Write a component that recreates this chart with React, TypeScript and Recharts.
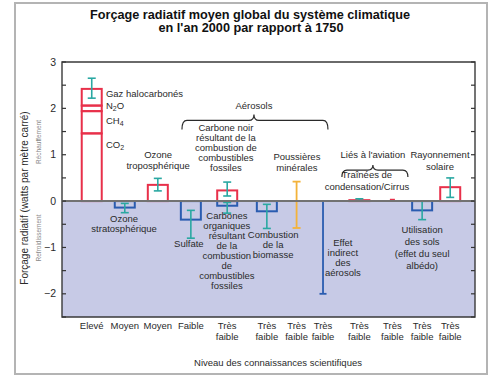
import React from 'react'
import {
  ComposedChart,
  Bar,
  ErrorBar,
  Scatter,
  XAxis,
  YAxis,
  ReferenceArea,
  ReferenceLine,
} from 'recharts'

// positions des colonnes sur l'axe horizontal et niveau de connaissance
const positions = [0.9, 1.9, 2.9, 3.9, 5.0, 6.2, 7.1, 7.9, 9.0, 10.0, 10.9, 11.75]
const levels = [
  'Elevé', 'Moyen', 'Moyen', 'Faible', 'Très faible', 'Très faible',
  'Très faible', 'Très faible', 'Très faible', 'Très faible', 'Très faible', 'Très faible',
]

// gaz à effet de serre (colonne 1, empilés) : CO2, CH4, N2O, halocarbonés
const ghgParts = [1.46, 0.48, 0.12, 0.36]
const ghgErr: [number, number] = [0.2, 0.23]

// forçages positifs (rouge) et négatifs (bleu), avec barres d'incertitude [bas, haut]
const warm = [null, null, 0.35, null, 0.23, null, null, null, 0.02, null, null, 0.3]
const warmErr = [null, null, [0.13, 0.14], null, [0.12, 0.18], null, null, null, [0.01, 0.03], null, null, [0.22, 0.2]]
const cool = [null, -0.14, null, -0.4, -0.1, -0.22, null, null, null, null, -0.2, null]
const coolErr = [null, [0.11, 0.09], null, [0.4, 0.2], [0.16, 0.07], [0.37, 0.15], null, null, null, null, [0.2, 0.2], null]

// plages seules : poussières minérales, effet indirect des aérosols ; cirrus
const dustRange = [0.42, -0.58]
const indirectRange = [0, -2]
const cirrus = 0.05

const yTicks = [-2.5, -2, -1.5, -1, -0.5, 0, 0.5, 1, 1.5, 2, 2.5, 3]

const RED = '#e8304a'
const BLUE = '#2a5cb0'
const TEAL = '#2aa8a2'
const ORANGE = '#f3b33a'
const TXT = '#2a2a2a'
const FONT = '"Liberation Sans", Arial, sans-serif'

const mid = (r: number[]) => (r[0] + r[1]) / 2
const half = (r: number[]) => (r[0] - r[1]) / 2

const data = positions.map((x, i) => ({
  x,
  level: levels[i],
  co2: i === 0 ? ghgParts[0] : null,
  ch4: i === 0 ? ghgParts[1] : null,
  n2o: i === 0 ? ghgParts[2] : null,
  halo: i === 0 ? ghgParts[3] : null,
  haloErr: i === 0 ? ghgErr : null,
  warm: warm[i],
  warmErr: warmErr[i],
  cool: cool[i],
  coolErr: coolErr[i],
  dust: i === 6 ? mid(dustRange) : null,
  dustErr: i === 6 ? half(dustRange) : null,
  indirect: i === 7 ? mid(indirectRange) : null,
  indirectErr: i === 7 ? half(indirectRange) : null,
  cirrus: i === 9 ? cirrus : null,
}))

// annotations placées en coordonnées du graphique
const notes = [
  { x: 1.33, y: 2.25, lines: ['Gaz halocarbonés'], anchor: 'start', lh: 10 },
  { x: 1.33, y: 1.98, lines: ['N_2O'], anchor: 'start', lh: 10 },
  { x: 1.33, y: 1.66, lines: ['CH_4'], anchor: 'start', lh: 10 },
  { x: 1.33, y: 1.15, lines: ['CO_2'], anchor: 'start', lh: 10 },
  { x: 2.91, y: 0.93, lines: ['Ozone', 'troposphérique'], anchor: 'middle', lh: 11 },
  { x: 1.88, y: -0.45, lines: ['Ozone', 'stratosphérique'], anchor: 'middle', lh: 10.5 },
  { x: 5.81, y: 1.98, lines: ['Aérosols'], anchor: 'middle', lh: 10 },
  { x: 4.96, y: 1.51, lines: ['Carbone noir', 'résultant de la', 'combustion de', 'combustibles', 'fossiles'], anchor: 'middle', lh: 10 },
  { x: 7.11, y: 0.88, lines: ['Poussières', 'minérales'], anchor: 'middle', lh: 10.5 },
  { x: 9.41, y: 0.93, lines: ["Liés à l'aviation"], anchor: 'middle', lh: 10 },
  { x: 9.23, y: 0.5, lines: ['Traînées de', 'condensation/Cirrus'], anchor: 'middle', lh: 12 },
  { x: 11.44, y: 0.93, lines: ['Rayonnement', 'solaire'], anchor: 'middle', lh: 12 },
  { x: 3.84, y: -0.99, lines: ['Sulfate'], anchor: 'middle', lh: 10 },
  { x: 4.99, y: -0.39, lines: ['Carbones', 'organiques', 'résultant', 'de la', 'combustion', 'de', 'combustibles', 'fossiles'], anchor: 'middle', lh: 10 },
  { x: 6.39, y: -0.8, lines: ['Combustion', 'de la', 'biomasse'], anchor: 'middle', lh: 10 },
  { x: 8.5, y: -0.97, lines: ['Effet', 'indirect', 'des', 'aérosols'], anchor: 'middle', lh: 10 },
  { x: 10.9, y: -0.69, lines: ['Utilisation', 'des sols', '(effet du seul', 'albédo)'], anchor: 'middle', lh: 12 },
]

// accolades : pointe au centre, demi-largeurs en px
const braces = [
  { x: 5.81, y: 1.74, left: 72, right: 74, up: 6, down: 9 },
  { x: 9.41, y: 0.67, left: 31, right: 35, up: 5, down: 7 },
]

function richLine(s: string) {
  const parts = s.split(/_(\d)/)
  return parts.map((p, k) =>
    k % 2 === 1 ? (
      <tspan key={k} fontSize={7} dy={2}>{p}</tspan>
    ) : (
      <tspan key={k} dy={k > 0 ? -2 : 0}>{p}</tspan>
    ),
  )
}

function NoteShape(props: any) {
  const { cx, cy, payload } = props
  return (
    <g>
      {payload.lines.map((l: string, k: number) => (
        <text
          key={k}
          x={cx}
          y={cy + k * payload.lh}
          dy="0.35em"
          textAnchor={payload.anchor}
          fontSize={9.5}
          fontFamily={FONT}
          fill={TXT}
        >
          {richLine(l)}
        </text>
      ))}
    </g>
  )
}

function BraceShape(props: any) {
  const { cx, cy, payload } = props
  const { left, right, up, down } = payload
  const r = 5
  const x0 = cx - left
  const x1 = cx + right
  const d = `M${x0},${cy + down} Q${x0},${cy} ${x0 + r},${cy} L${cx - r},${cy} Q${cx},${cy} ${cx},${cy - up} Q${cx},${cy} ${cx + r},${cy} L${x1 - r},${cy} Q${x1},${cy} ${x1},${cy + down}`
  return <path d={d} fill="none" stroke={TXT} strokeWidth={1.2} />
}

// boîte de largeur fixe centrée sur la position de la colonne
const boxShape = (color: string, w: number, filled = false) => (p: any) => {
  if (p.height == null || p.width == null || !p.height) return <g />
  const top = Math.min(p.y, p.y + p.height)
  const h = Math.abs(p.height)
  const cx = p.x + p.width / 2
  return (
    <rect
      x={cx - w / 2}
      y={top}
      width={w}
      height={h}
      fill={filled ? color : 'none'}
      stroke={filled ? 'none' : color}
      strokeWidth={2}
    />
  )
}

function XTick(props: any) {
  const { x, y, index } = props
  const label = levels[index] ?? ''
  const words = label.split(' ')
  return (
    <g>
      {words.map((w: string, k: number) => (
        <text key={k} x={x} y={y + 11.5 + k * 11.5} textAnchor="middle" fontSize={9.5} fontFamily={FONT} fill={TXT}>
          {w}
        </text>
      ))}
    </g>
  )
}

function LeftTick(props: any) {
  const { x, y, payload } = props
  const v = payload.value
  const ax = x + 6
  const isInt = Number.isInteger(v) && v > -2.5
  return (
    <g>
      <line x1={ax} x2={ax + 4} y1={y} y2={y} stroke="#333" strokeWidth={1.2} />
      {isInt && (
        <text x={x} y={y} dy="0.35em" textAnchor="end" fontSize={10.5} fontFamily={FONT} fill={TXT}>
          {v < 0 ? `\u2212${-v}` : v}
        </text>
      )}
    </g>
  )
}

function RightTick(props: any) {
  const { x, y } = props
  return <line x1={x - 4} x2={x} y1={y} y2={y} stroke="#333" strokeWidth={1.2} />
}

export default function App() {
  return (
    <div style={{ position: 'absolute', left: 0, top: 0, width: 500, height: 387, background: '#fff' }}>
      <ComposedChart
        width={500}
        height={387}
        data={data}
        stackOffset="sign"
        margin={{ top: 62, right: 20, bottom: 40, left: 32 }}
      >
        <XAxis
          type="number"
          dataKey="x"
          domain={[0, 12.5]}
          allowDataOverflow
          ticks={positions}
          interval={0}
          tick={<XTick />}
          tickLine={false}
          axisLine={false}
          tickSize={0}
          tickMargin={0}
          height={30}
        />
        <YAxis
          yAxisId="left"
          type="number"
          domain={[-2.5, 3]}
          allowDataOverflow
          ticks={yTicks}
          interval={0}
          tick={<LeftTick />}
          tickLine={false}
          axisLine={false}
          tickSize={0}
          tickMargin={6}
          width={30}
        />
        <YAxis
          yAxisId="right"
          orientation="right"
          type="number"
          domain={[-2.5, 3]}
          allowDataOverflow
          ticks={yTicks}
          interval={0}
          tick={<RightTick />}
          tickLine={false}
          axisLine={false}
          tickSize={0}
          tickMargin={0}
          width={5}
        />
        <ReferenceArea yAxisId="left" x1={0} x2={12.5} y1={-2.5} y2={0} fill="#c7cae6" fillOpacity={1} stroke="none" />

        <Bar yAxisId="left" dataKey="co2" stackId="s" shape={boxShape(RED, 20)} isAnimationActive={false} />
        <Bar yAxisId="left" dataKey="ch4" stackId="s" shape={boxShape(RED, 20)} isAnimationActive={false} />
        <Bar yAxisId="left" dataKey="n2o" stackId="s" shape={boxShape(RED, 20)} isAnimationActive={false} />
        <Bar yAxisId="left" dataKey="halo" stackId="s" shape={boxShape(RED, 20)} isAnimationActive={false}>
          <ErrorBar dataKey="haloErr" width={4} stroke={TEAL} strokeWidth={1.6} direction="y" />
        </Bar>
        <Bar yAxisId="left" dataKey="warm" stackId="s" shape={boxShape(RED, 20)} isAnimationActive={false}>
          <ErrorBar dataKey="warmErr" width={4} stroke={TEAL} strokeWidth={1.6} direction="y" />
        </Bar>
        <Bar yAxisId="left" dataKey="cool" stackId="s" shape={boxShape(BLUE, 20)} isAnimationActive={false}>
          <ErrorBar dataKey="coolErr" width={4} stroke={TEAL} strokeWidth={1.6} direction="y" />
        </Bar>
        <Bar yAxisId="left" dataKey="dust" stackId="s" fill="none" stroke="none" isAnimationActive={false}>
          <ErrorBar dataKey="dustErr" width={4} stroke={ORANGE} strokeWidth={1.8} direction="y" />
        </Bar>
        <Bar yAxisId="left" dataKey="indirect" stackId="s" fill="none" stroke="none" isAnimationActive={false}>
          <ErrorBar dataKey="indirectErr" width={3.5} stroke={BLUE} strokeWidth={1.8} direction="y" />
        </Bar>
        <Bar yAxisId="left" dataKey="cirrus" stackId="s" shape={boxShape(RED, 5, true)} isAnimationActive={false} />

        <ReferenceLine yAxisId="left" y={0} stroke="#727272" strokeWidth={2} />
        <ReferenceArea yAxisId="left" x1={0} x2={12.5} y1={-2.5} y2={3} fill="none" stroke="#3a3a3a" strokeWidth={1.4} />

        <Scatter yAxisId="left" data={braces} dataKey="y" shape={<BraceShape />} isAnimationActive={false} legendType="none" />
        <Scatter yAxisId="left" data={notes} dataKey="y" shape={<NoteShape />} isAnimationActive={false} legendType="none" />
      </ComposedChart>

      <svg width={500} height={387} style={{ position: 'absolute', left: 0, top: 0, pointerEvents: 'none' }}>
        <rect x={15} y={3} width={472} height={371} fill="none" stroke="#b4b4b4" strokeWidth={2} />
        <text x={250} y={19} textAnchor="middle" fontSize={12.7} fontWeight="bold" fontFamily={FONT} fill="#111">
          Forçage radiatif moyen global du système climatique
        </text>
        <text x={251} y={32} textAnchor="middle" fontSize={12.7} fontWeight="bold" fontFamily={FONT} fill="#111">
          en l'an 2000 par rapport à 1750
        </text>
        <text
          transform="translate(24,198) rotate(-90)"
          textAnchor="middle"
          dy="0.35em"
          fontSize={10}
          fontFamily={FONT}
          fill={TXT}
        >
          Forçage radiatif  (watts par mètre carré)
        </text>
        <text transform="translate(39,142) rotate(-90)" textAnchor="middle" dy="0.35em" fontSize={6.5} fontFamily={FONT} fill="#8a8a8a">
          Réchauffement
        </text>
        <text transform="translate(39,238) rotate(-90)" textAnchor="middle" dy="0.35em" fontSize={6.5} fontFamily={FONT} fill="#8a8a8a">
          Refroidissement
        </text>
        <text x={278} y={363} dy="0.35em" textAnchor="middle" fontSize={9.5} fontFamily={FONT} fill={TXT}>
          Niveau des connaissances scientifiques
        </text>
      </svg>
    </div>
  )
}
